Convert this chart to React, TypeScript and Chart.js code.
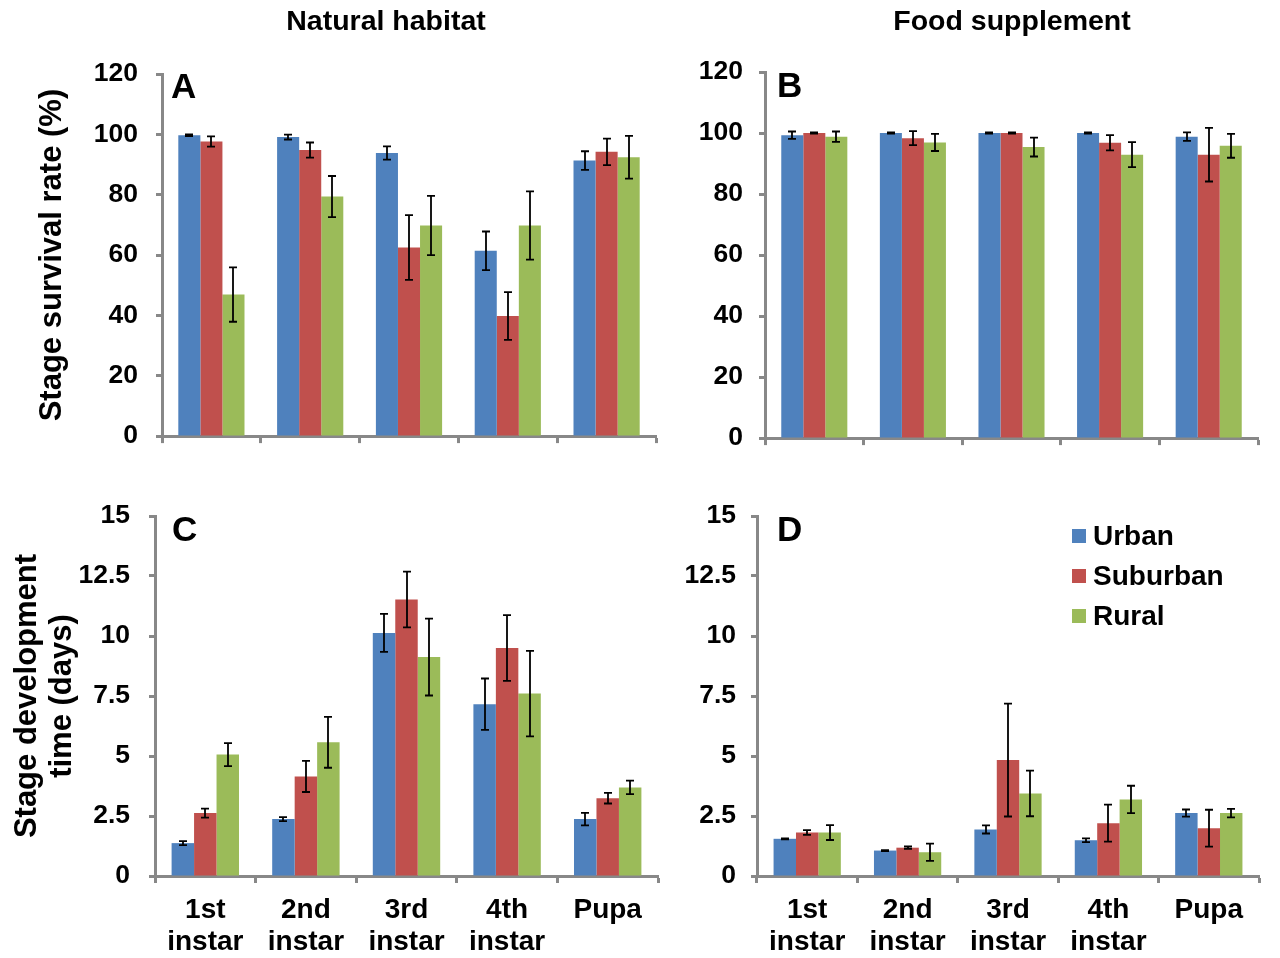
import React, { useEffect, useRef } from 'react';
import Chart from 'chart.js/auto';

const FONT = '"Liberation Sans", Arial, Helvetica, sans-serif';
const GRAY = '#888888';
const COLORS = ['#4F81BD', '#C0504D', '#9BBB59'];

// ---------- data ----------
const categories = ['1st instar', '2nd instar', '3rd instar', '4th instar', 'Pupa'];
const seriesNames = ['Urban', 'Suburban', 'Rural'];
const survivalTicks = [0, 20, 40, 60, 80, 100, 120];
const devTicks = [0, 2.5, 5, 7.5, 10, 12.5, 15];

// A: survival, natural habitat
const survNatUrban = [99.7, 99.1, 93.8, 61.4, 91.3];
const survNatUrbanErr = [0.3, 0.8, 2.2, 6.4, 3.1];
const survNatSuburban = [97.6, 94.8, 62.5, 39.8, 94.2];
const survNatSuburbanErr = [1.7, 2.5, 10.7, 7.9, 4.4];
const survNatRural = [46.9, 79.4, 69.8, 69.8, 92.4];
const survNatRuralErr = [9.0, 6.8, 9.8, 11.3, 7.1];

// B: survival, food supplement
const survFoodUrban = [99.3, 100, 100, 100, 98.8];
const survFoodUrbanErr = [1.2, 0.2, 0.2, 0.2, 1.4];
const survFoodSuburban = [100, 98.3, 100, 96.8, 92.9];
const survFoodSuburbanErr = [0.2, 2.3, 0.2, 2.5, 8.8];
const survFoodRural = [98.8, 96.9, 95.4, 92.9, 95.8];
const survFoodRuralErr = [1.7, 2.8, 3.1, 4.1, 3.9];

// C: development time, natural habitat
const devNatUrban = [1.37, 2.37, 10.13, 7.16, 2.37];
const devNatUrbanErr = [0.08, 0.08, 0.79, 1.07, 0.26];
const devNatSuburban = [2.62, 4.15, 11.52, 9.5, 3.24];
const devNatSuburbanErr = [0.19, 0.65, 1.16, 1.37, 0.22];
const devNatRural = [5.06, 5.57, 9.12, 7.6, 3.69];
const devNatRuralErr = [0.48, 1.06, 1.6, 1.78, 0.28];

// D: development time, food supplement
const devFoodUrban = [1.55, 1.06, 1.94, 1.49, 2.62];
const devFoodUrbanErr = [0.02, 0.02, 0.17, 0.08, 0.15];
const devFoodSuburban = [1.81, 1.18, 4.83, 2.2, 1.99];
const devFoodSuburbanErr = [0.1, 0.05, 2.35, 0.77, 0.77];
const devFoodRural = [1.81, 0.99, 3.44, 3.19, 2.62];
const devFoodRuralErr = [0.31, 0.36, 0.95, 0.57, 0.18];

// ---------- layout ----------
type Panel = {
  key: string;
  x: number; y: number; w: number; h: number;
  area: { left: number; right: number; top: number; bottom: number };
  values: number[][];
  errors: number[][];
  ticks: number[];
  letter: string;
  letterPos: [number, number];
  colTitle?: string;
  colTitlePos?: [number, number];
  yTitle?: string | string[];
  yTitlePad?: number;
  yTitleSize?: number;
  yTitleLH?: number;
  tickPad: number;
  showX: boolean;
  legend?: [number, number];
};

const panels: Panel[] = [
  {
    key: 'A', x: 0, y: 0, w: 700, h: 470,
    area: { left: 162, right: 656, top: 74, bottom: 448 },
    values: [survNatUrban, survNatSuburban, survNatRural],
    errors: [survNatUrbanErr, survNatSuburbanErr, survNatRuralErr],
    ticks: survivalTicks, letter: 'A', letterPos: [171, 88],
    colTitle: 'Natural habitat', colTitlePos: [386, 22],
    yTitle: 'Stage survival rate (%)', yTitlePad: 34, yTitleSize: 31, yTitleLH: 1.2,
    tickPad: 18, showX: false,
  },
  {
    key: 'B', x: 640, y: 0, w: 640, h: 470,
    area: { left: 125, right: 618, top: 72, bottom: 444 },
    values: [survFoodUrban, survFoodSuburban, survFoodRural],
    errors: [survFoodUrbanErr, survFoodSuburbanErr, survFoodRuralErr],
    ticks: survivalTicks, letter: 'B', letterPos: [137, 87],
    colTitle: 'Food supplement', colTitlePos: [372, 22],
    tickPad: 16, showX: false,
  },
  {
    key: 'C', x: 0, y: 470, w: 700, h: 488,
    area: { left: 155, right: 658, top: 46, bottom: 406 },
    values: [devNatUrban, devNatSuburban, devNatRural],
    errors: [devNatUrbanErr, devNatSuburbanErr, devNatRuralErr],
    ticks: devTicks, letter: 'C', letterPos: [172, 61],
    yTitle: ['Stage development', 'time (days)'], yTitlePad: 10, yTitleSize: 31, yTitleLH: 1.13,
    tickPad: 19, showX: true,
  },
  {
    key: 'D', x: 640, y: 470, w: 640, h: 488,
    area: { left: 117, right: 619, top: 46, bottom: 406 },
    values: [devFoodUrban, devFoodSuburban, devFoodRural],
    errors: [devFoodUrbanErr, devFoodSuburbanErr, devFoodRuralErr],
    ticks: devTicks, letter: 'D', letterPos: [137, 61],
    tickPad: 15, showX: true, legend: [432, 66],
  },
];

function makeConfig(p: Panel): any {
  const a = p.area;
  const decor = {
    id: 'decor' + p.key,
    afterDatasetsDraw(chart: any) {
      const ctx = chart.ctx;
      const ys = chart.scales.y;
      ctx.save();
      ctx.strokeStyle = '#000';
      ctx.lineWidth = 1.8;
      chart.data.datasets.forEach((ds: any, i: number) => {
        const meta = chart.getDatasetMeta(i);
        meta.data.forEach((el: any, j: number) => {
          const v = ds.data[j];
          const e = p.errors[i][j];
          const yt = ys.getPixelForValue(v + e);
          const yb = ys.getPixelForValue(v - e);
          const x = Math.round(el.x);
          ctx.beginPath();
          ctx.moveTo(x, yt); ctx.lineTo(x, yb);
          ctx.moveTo(x - 4, yt); ctx.lineTo(x + 4, yt);
          ctx.moveTo(x - 4, yb); ctx.lineTo(x + 4, yb);
          ctx.stroke();
        });
      });
      ctx.restore();
    },
    afterDraw(chart: any) {
      const ctx = chart.ctx;
      ctx.save();
      ctx.fillStyle = '#000';
      ctx.textBaseline = 'middle';
      ctx.textAlign = 'left';
      ctx.font = `bold 35px ${FONT}`;
      ctx.fillText(p.letter, p.letterPos[0], p.letterPos[1]);
      if (p.colTitle && p.colTitlePos) {
        ctx.font = `bold 28.5px ${FONT}`;
        ctx.textAlign = 'center';
        ctx.fillText(p.colTitle, p.colTitlePos[0], p.colTitlePos[1]);
      }
      if (p.legend) {
        ctx.font = `bold 28px ${FONT}`;
        ctx.textAlign = 'left';
        seriesNames.forEach((n, i) => {
          const cy = p.legend![1] + i * 40;
          ctx.fillStyle = COLORS[i];
          ctx.fillRect(p.legend![0], cy - 7, 14, 14);
          ctx.fillStyle = '#000';
          ctx.fillText(n, p.legend![0] + 21, cy + 1);
        });
      }
      ctx.restore();
    },
  };

  return {
    type: 'bar',
    data: {
      labels: categories.map((c) => c.split(' ')),
      datasets: p.values.map((vals, i) => ({
        label: seriesNames[i],
        data: vals,
        backgroundColor: COLORS[i],
        borderWidth: 0,
        categoryPercentage: 0.67,
        barPercentage: 1,
      })),
    },
    options: {
      responsive: false,
      animation: false,
      devicePixelRatio: 1,
      layout: { padding: { left: 0, top: a.top, right: p.w - a.right, bottom: 0 } },
      plugins: { legend: { display: false }, tooltip: { enabled: false }, title: { display: false } },
      scales: {
        x: {
          grid: {
            display: true, offset: true, drawOnChartArea: false, drawTicks: true,
            tickLength: 7, tickColor: GRAY, tickWidth: 3,
          },
          border: { display: true, color: GRAY, width: 3 },
          ticks: {
            display: p.showX,
            color: '#000',
            padding: 12,
            maxRotation: 0,
            autoSkip: false,
            font: { family: FONT, size: 28, weight: 'bold', lineHeight: 1.12 },
          },
          afterFit: (s: any) => { s.height = p.h - a.bottom; },
        },
        y: {
          min: p.ticks[0],
          max: p.ticks[p.ticks.length - 1],
          grid: {
            display: true, drawOnChartArea: false, drawTicks: true,
            tickLength: 6, tickColor: GRAY, tickWidth: 3,
          },
          border: { display: true, color: GRAY, width: 3 },
          ticks: {
            stepSize: p.ticks[1] - p.ticks[0],
            color: '#000',
            padding: p.tickPad,
            font: { family: FONT, size: 26.5, weight: 'bold' },
            callback: (v: any) => String(v),
          },
          title: p.yTitle
            ? {
                display: true,
                text: p.yTitle,
                color: '#000',
                padding: { top: p.yTitlePad, bottom: 0 },
                font: { family: FONT, size: p.yTitleSize, weight: 'bold', lineHeight: p.yTitleLH },
              }
            : { display: false },
          afterFit: (s: any) => { s.width = a.left; },
        },
      },
    },
    plugins: [decor],
  };
}

function PanelChart({ p }: { p: Panel }) {
  const ref = useRef<HTMLCanvasElement>(null);
  useEffect(() => {
    const chart = new Chart(ref.current as HTMLCanvasElement, makeConfig(p));
    return () => chart.destroy();
  }, []);
  return (
    <canvas
      ref={ref}
      width={p.w}
      height={p.h}
      style={{ position: 'absolute', left: p.x, top: p.y, width: p.w, height: p.h }}
    />
  );
}

export default function App() {
  return (
    <div style={{ position: 'fixed', left: 0, top: 0, width: 1280, height: 958, background: '#fff', overflow: 'hidden' }}>
      {panels.map((p) => (
        <PanelChart key={p.key} p={p} />
      ))}
    </div>
  );
}
